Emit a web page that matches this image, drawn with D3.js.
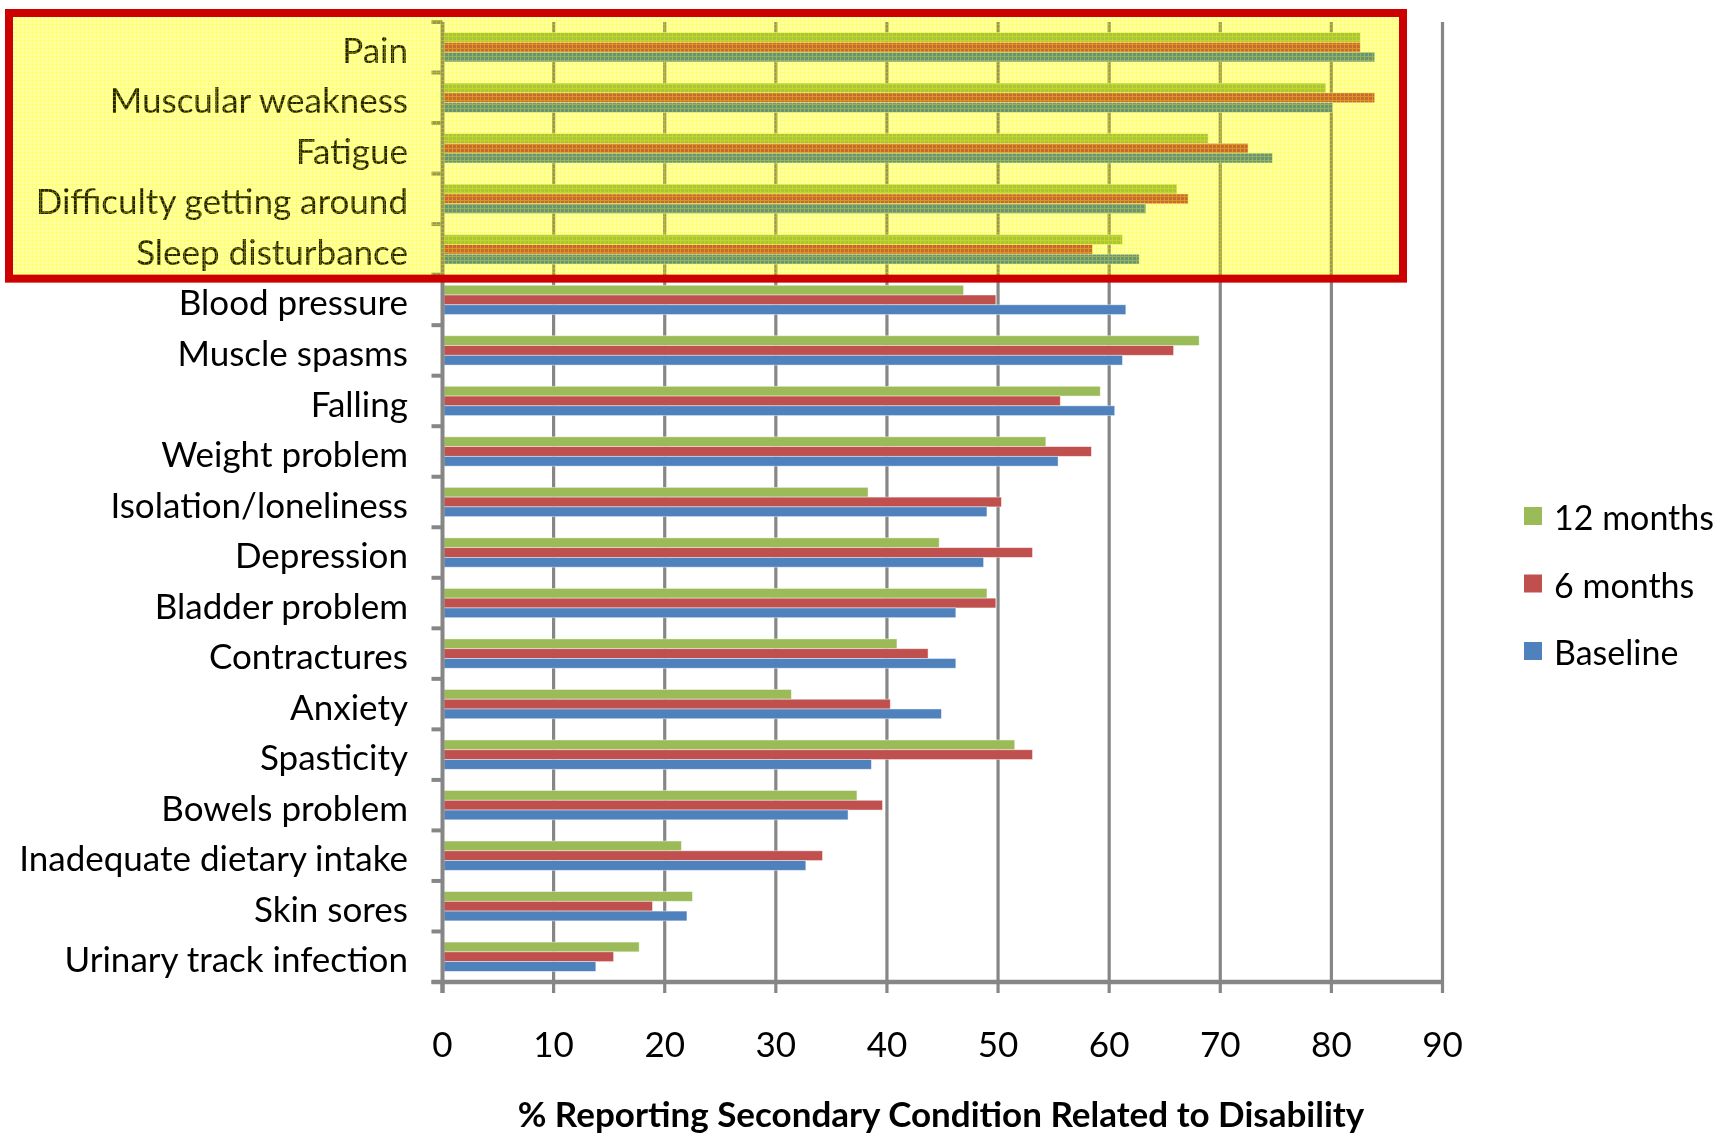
<!DOCTYPE html>
<html>
<head>
<meta charset="utf-8">
<script src="https://cdn.jsdelivr.net/npm/d3@7"></script>
<style>
  html, body { margin: 0; padding: 0; background: #ffffff; }
  svg { display: block; }
  text { font-family: Lato, "Open Sans", sans-serif; fill: #000; }
</style>
</head>
<body>
<svg id="chart" width="1720" height="1137"></svg>
<script>
// Secondary conditions, listed top to bottom
const categories = [
  "Pain", "Muscular weakness", "Fatigue", "Difficulty getting around",
  "Sleep disturbance", "Blood pressure", "Muscle spasms", "Falling",
  "Weight problem", "Isolation/loneliness", "Depression", "Bladder problem",
  "Contractures", "Anxiety", "Spasticity", "Bowels problem",
  "Inadequate dietary intake", "Skin sores", "Urinary track infection"
];
// The first five conditions are the highlighted group
const highlighted = ["Pain", "Muscular weakness", "Fatigue", "Difficulty getting around", "Sleep disturbance"];

const seriesNames = ["12 months", "6 months", "Baseline"];

const months12 = [82.6, 79.5, 68.9, 66.1, 61.2, 46.9, 68.1, 59.2, 54.3, 38.3, 44.7, 49.0, 40.9, 31.4, 51.5, 37.3, 21.5, 22.5, 17.7];
const months6  = [82.6, 83.9, 72.5, 67.1, 58.5, 49.8, 65.8, 55.6, 58.4, 50.3, 53.1, 49.8, 43.7, 40.3, 53.1, 39.6, 34.2, 18.9, 15.4];
const baseline = [83.9, 80.1, 74.7, 63.3, 62.7, 61.5, 61.2, 60.5, 55.4, 49.0, 48.7, 46.2, 46.2, 44.9, 38.6, 36.5, 32.7, 22.0, 13.8];

const xTicks = [0, 10, 20, 30, 40, 50, 60, 70, 80, 90];
const xTitle = "% Reporting Secondary Condition Related to Disability";

const seriesValues = { "12 months": months12, "6 months": months6, "Baseline": baseline };
const colors = { "12 months": "#9BBB59", "6 months": "#C0504D", "Baseline": "#4F81BD" };

const svg = d3.select("#chart");

const plot = { left: 442.5, right: 1442.5, top: 22, bottom: 982 };
const fontSize = 35;

const x = d3.scaleLinear().domain([0, 90]).range([plot.left, plot.right]);
// Categories in rows with cluster padding like a clustered bar chart
const y = d3.scaleBand().domain(categories).range([plot.top, plot.bottom])
  .paddingInner(0.42).paddingOuter(0.21);
const ySeries = d3.scaleBand().domain(seriesNames).range([0, y.bandwidth()]);

const gridColor = "#868686";

// Vertical gridlines, extended a little below the axis as tick marks
svg.append("g").selectAll("line")
  .data(xTicks.slice(1))
  .join("line")
  .attr("x1", d => x(d)).attr("x2", d => x(d))
  .attr("y1", plot.top).attr("y2", plot.bottom + 11)
  .attr("stroke", gridColor).attr("stroke-width", 3.2);

// Bars
const barData = [];
categories.forEach((c, i) => {
  seriesNames.forEach(s => barData.push({ cat: c, series: s, value: seriesValues[s][i] }));
});
svg.append("g").selectAll("rect")
  .data(barData)
  .join("rect")
  .attr("x", x(0) + 1.5)
  .attr("y", d => y(d.cat) + ySeries(d.series))
  .attr("width", d => x(d.value) - x(0) - 1.5)
  .attr("height", ySeries.bandwidth())
  .attr("fill", d => colors[d.series])
  .attr("stroke", "rgba(255,255,255,0.55)")
  .attr("stroke-width", 0.8);

// Y axis line with category boundary ticks on the left
svg.append("line")
  .attr("x1", x(0)).attr("x2", x(0))
  .attr("y1", plot.top).attr("y2", plot.bottom + 11)
  .attr("stroke", gridColor).attr("stroke-width", 4);
const boundaries = categories.map(c => y(c) - y.step() * y.paddingOuter())
  .concat([plot.bottom]);
svg.append("g").selectAll("line")
  .data(boundaries)
  .join("line")
  .attr("x1", x(0) - 11).attr("x2", x(0))
  .attr("y1", d => d).attr("y2", d => d)
  .attr("stroke", gridColor).attr("stroke-width", 4);

// X axis line
svg.append("line")
  .attr("x1", x(0) - 11).attr("x2", x(90) + 1.5)
  .attr("y1", plot.bottom).attr("y2", plot.bottom)
  .attr("stroke", gridColor).attr("stroke-width", 4.5);
svg.append("line")
  .attr("x1", x(0)).attr("x2", x(0))
  .attr("y1", plot.bottom).attr("y2", plot.bottom + 11)
  .attr("stroke", gridColor).attr("stroke-width", 4);

// Category labels
svg.append("g").selectAll("text")
  .data(categories)
  .join("text")
  .attr("x", 408)
  .attr("y", d => y(d) + y.bandwidth() / 2 + 3)
  .attr("dy", "0.36em")
  .attr("text-anchor", "end")
  .style("font-size", fontSize + "px")
  .text(d => d);

// Tick labels
svg.append("g").selectAll("text")
  .data(xTicks)
  .join("text")
  .attr("x", d => x(d))
  .attr("y", 1044)
  .attr("dy", "0.36em")
  .attr("text-anchor", "middle")
  .style("font-size", fontSize + "px")
  .text(d => d);

// Axis title
svg.append("text")
  .attr("x", 941).attr("y", 1114)
  .attr("dy", "0.36em")
  .attr("text-anchor", "middle")
  .style("font-size", fontSize + "px").style("font-weight", "bold")
  .text(xTitle);

// Legend
const legend = svg.append("g").selectAll("g")
  .data(seriesNames)
  .join("g")
  .attr("transform", (d, i) => `translate(1524, ${516 + i * 67.5})`);
legend.append("rect")
  .attr("x", 0).attr("y", -9).attr("width", 18).attr("height", 18)
  .attr("fill", d => colors[d]);
legend.append("text")
  .attr("x", 30).attr("y", 2).attr("dy", "0.36em")
  .style("font-size", "34px")
  .text(d => d);

// Highlight over the first group: yellow tint, grid-textured wash and red frame
const defs = svg.append("defs");
const pat = defs.append("pattern")
  .attr("id", "wash").attr("patternUnits", "userSpaceOnUse")
  .attr("width", 4).attr("height", 4);
pat.append("rect").attr("width", 4).attr("height", 4)
  .attr("fill", "#ffff00").attr("fill-opacity", 0.14);
pat.append("rect").attr("x", 0).attr("y", 0).attr("width", 4).attr("height", 1)
  .attr("fill", "#ffff00").attr("fill-opacity", 0.3);
pat.append("rect").attr("x", 0).attr("y", 1).attr("width", 1).attr("height", 3)
  .attr("fill", "#ffff00").attr("fill-opacity", 0.3);

const hiTop = y(highlighted[0]) - y.step() * y.paddingOuter();
const hiBottom = y(highlighted[highlighted.length - 1]) + y.bandwidth() + y.step() * y.paddingOuter();
const frame = { x: 9, y: hiTop - 9, w: 1394, h: hiBottom - hiTop + 13 };

svg.append("rect")
  .attr("x", frame.x).attr("y", frame.y)
  .attr("width", frame.w).attr("height", frame.h)
  .attr("fill", "#ffffbe")
  .style("mix-blend-mode", "multiply");
svg.append("rect")
  .attr("x", frame.x).attr("y", frame.y)
  .attr("width", frame.w).attr("height", frame.h)
  .attr("fill", "url(#wash)");
svg.append("rect")
  .attr("x", frame.x).attr("y", frame.y)
  .attr("width", frame.w).attr("height", frame.h)
  .attr("fill", "none")
  .attr("stroke", "#CC0000").attr("stroke-width", 8);
</script>
</body>
</html>
